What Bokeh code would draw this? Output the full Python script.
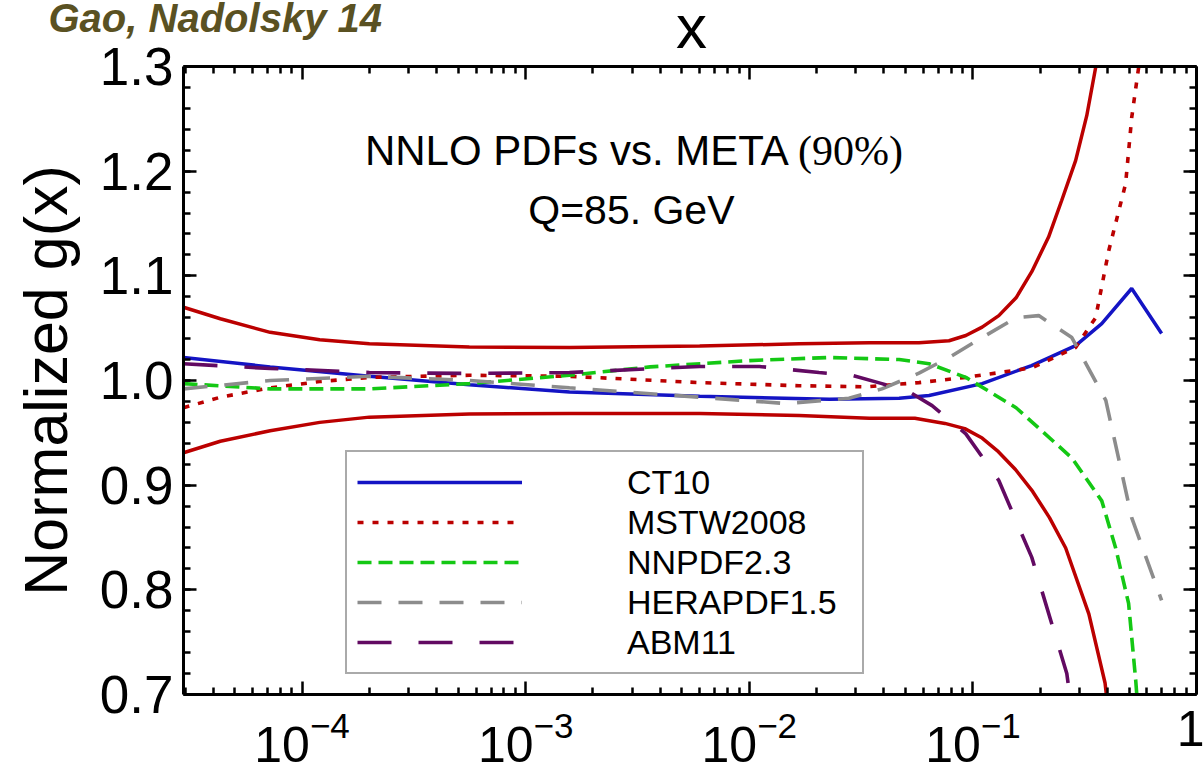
from bokeh.plotting import figure
from bokeh.layouts import column
from bokeh.models import (Range1d, LogAxis, LinearAxis, FixedTicker, LogTickFormatter,
                          Legend, LegendItem, Label)
from bokeh.embed import file_html
from bokeh.resources import INLINE

# ---------------- data ----------------
meta_upper_x = [2.95e-5, 4.31e-5, 7.2e-5, 1.2e-4, 2.0e-4, 5.6e-4, 1.57e-3, 6.0e-3, 0.0167, 0.0344,
                0.0574, 0.0782, 0.093, 0.11, 0.1306, 0.156, 0.1834, 0.218, 0.2495, 0.288,
                0.323, 0.354, 0.37]
meta_upper_y = [1.070, 1.059, 1.046, 1.039, 1.035, 1.032, 1.0315, 1.033, 1.035, 1.036,
                1.036, 1.038, 1.043, 1.051, 1.062, 1.079, 1.104, 1.137, 1.172, 1.210,
                1.253, 1.299, 1.317]

meta_lower_x = [2.95e-5, 4.31e-5, 7.2e-5, 1.2e-4, 2.0e-4, 5.6e-4, 1.57e-3, 6.0e-3, 0.0167, 0.0344,
                0.055, 0.075, 0.092, 0.11, 0.13, 0.155, 0.185, 0.22, 0.26, 0.33, 0.39, 0.40]
meta_lower_y = [0.931, 0.942, 0.952, 0.960, 0.965, 0.968, 0.9685, 0.9685, 0.9665, 0.964,
                0.964, 0.959, 0.954, 0.945, 0.932, 0.915, 0.894, 0.869, 0.840, 0.777, 0.711, 0.690]

ct10_x = [2.95e-5, 7.2e-5, 2.0e-4, 5.6e-4, 1.57e-3, 6.0e-3, 0.0228, 0.0468, 0.0637, 0.11,
          0.183, 0.288, 0.377, 0.513, 0.698]
ct10_y = [1.022, 1.013, 1.004, 0.996, 0.989, 0.985, 0.982, 0.983, 0.9857, 0.997,
          1.0143, 1.0334, 1.0544, 1.0879, 1.0449]

mstw_x = [2.95e-5, 4.31e-5, 7.2e-5, 1.2e-4, 2.0e-4, 5.6e-4, 1.57e-3, 6.0e-3, 0.0167, 0.0333,
          0.0574, 0.093, 0.183, 0.288, 0.354, 0.405, 0.482, 0.513, 0.551, 0.565]
mstw_y = [0.974, 0.984, 0.993, 0.999, 1.003, 1.005, 1.004, 0.998, 0.995, 0.994,
          0.998, 1.003, 1.012, 1.0315, 1.060, 1.124, 1.188, 1.251, 1.299, 1.32]

nnpdf_x = [2.95e-5, 7.2e-5, 2.0e-4, 5.6e-4, 1.57e-3, 3.6e-3, 0.01, 0.0228, 0.0468, 0.0637,
           0.093, 0.156, 0.277, 0.377, 0.435, 0.497, 0.535, 0.545]
nnpdf_y = [0.997, 0.992, 0.992, 0.997, 1.005, 1.013, 1.019, 1.022, 1.020, 1.016,
           1.003, 0.974, 0.926, 0.885, 0.840, 0.787, 0.713, 0.690]

hera_x = [2.95e-5, 7.2e-5, 2.0e-4, 5.6e-4, 1.57e-3, 6.0e-3, 0.0146, 0.0279, 0.0392, 0.0574,
          0.0782, 0.11, 0.156, 0.197, 0.277, 0.393, 0.513, 0.698]
hera_y = [0.992, 1.0, 1.004, 1.0, 0.993, 0.984, 0.978, 0.983, 0.992, 1.007,
          1.022, 1.041, 1.060, 1.062, 1.041, 0.981, 0.869, 0.790]

abm_x = [2.95e-5, 7.2e-5, 2.0e-4, 5.6e-4, 1.57e-3, 6.0e-3, 0.0111, 0.0205, 0.0288, 0.0392,
         0.0534, 0.0657, 0.093, 0.1306, 0.1834, 0.263, 0.275]
abm_y = [1.016, 1.0115, 1.0076, 1.0067, 1.0076, 1.0134, 1.0134, 1.0076, 1.005, 0.997,
         0.9876, 0.976, 0.949, 0.9045, 0.831, 0.720, 0.690]

series_names = ["CT10", "MSTW2008", "NNPDF2.3", "HERAPDF1.5", "ABM11"]

x_ticks = [1e-4, 1e-3, 1e-2, 1e-1, 1.0]
x_minor = [k * 10.0 ** d for d in range(-5, 0) for k in range(2, 10)]
y_ticks = [0.7, 0.8, 0.9, 1.0, 1.1, 1.2, 1.3]
y_tick_labels = ["0.7", "0.8", "0.9", "1.0", "1.1", "1.2", "1.3"]
y_minor = [round(0.7 + 0.02 * i, 2) for i in range(31)]

FONT = "Liberation Sans"
RED = "#bb0000"
BLUE = "#1414c4"
GREEN = "#14c814"
GRAY = "#8c8c8c"
PURPLE = "#620a62"

W, H = 1204, 773

# ---------------- main figure ----------------
p = figure(width=W, height=H, x_axis_type="log",
           x_range=Range1d(2.95e-5, 1.0), y_range=Range1d(0.7, 1.3),
           output_backend="svg", toolbar_location=None,
           min_border_left=183, min_border_right=8, min_border_top=66, min_border_bottom=79,
           background_fill_color="white", border_fill_color="white")
p.grid.visible = False
p.outline_line_color = None

xt = FixedTicker(ticks=x_ticks, minor_ticks=x_minor)
yt = FixedTicker(ticks=y_ticks, minor_ticks=y_minor)

bottom = p.xaxis[0]
bottom.ticker = xt
bottom.formatter = LogTickFormatter()
bottom.major_label_overrides = {1.0: "1"}
bottom.major_label_text_font = FONT
bottom.major_label_text_font_size = "50px"
bottom.major_label_standoff = 16

left = p.yaxis[0]
left.ticker = yt
left.major_label_overrides = {t: s for t, s in zip(y_ticks, y_tick_labels)}
left.major_label_text_font = FONT
left.major_label_text_font_size = "53px"
left.major_label_standoff = 10
left.axis_label = "Normalized g(x)"
left.axis_label_text_font = FONT
left.axis_label_text_font_size = "61px"
left.axis_label_text_font_style = "normal"
left.axis_label_standoff = 17

top = LogAxis(ticker=xt)
top.major_label_text_font_size = "1px"
top.major_label_text_alpha = 0
top.major_label_standoff = 0
p.add_layout(top, "above")

right = LinearAxis(ticker=yt)
right.major_label_text_font_size = "1px"
right.major_label_text_alpha = 0
right.major_label_standoff = 0
p.add_layout(right, "right")

for ax in (bottom, left, top, right):
    ax.major_tick_in = 13
    ax.major_tick_out = 0
    ax.minor_tick_in = 7
    ax.minor_tick_out = 0
    ax.axis_line_width = 3
    ax.major_tick_line_width = 2.5
    ax.minor_tick_line_width = 2.5
    ax.axis_line_color = "black"
    ax.major_tick_line_color = "black"
    ax.minor_tick_line_color = "black"
    ax.major_label_text_color = "black"
    ax.axis_label_text_color = "black"

# ---------------- curves ----------------
p.line(meta_upper_x, meta_upper_y, line_color=RED, line_width=3.5)
p.line(meta_lower_x, meta_lower_y, line_color=RED, line_width=3.5)

r_ct = p.line(ct10_x, ct10_y, line_color=BLUE, line_width=3.5)
r_ms = p.line(mstw_x, mstw_y, line_color=RED, line_width=3.6, line_dash="6 9")
r_nn = p.line(nnpdf_x, nnpdf_y, line_color=GREEN, line_width=3.6, line_dash="14 7")
r_he = p.line(hera_x, hera_y, line_color=GRAY, line_width=3.6, line_dash="24 17")
r_ab = p.line(abm_x, abm_y, line_color=PURPLE, line_width=3.6, line_dash="34 27")

legend = Legend(items=[LegendItem(label=n, renderers=[r])
                       for n, r in zip(series_names, [r_ct, r_ms, r_nn, r_he, r_ab])],
                location=(162, 20))
legend.label_text_font = FONT
legend.label_text_font_size = "34px"
legend.label_text_color = "black"
legend.glyph_width = 165
legend.glyph_height = 40
legend.label_height = 40
legend.label_standoff = 105
legend.label_width = 225
legend.padding = 10
legend.spacing = 0
legend.margin = 0
legend.border_line_color = "#555555"
legend.border_line_width = 2
legend.background_fill_color = "white"
legend.background_fill_alpha = 1.0
p.add_layout(legend, "center")

# ---------------- annotations inside the frame ----------------
p.add_layout(Label(x=1.91e-4, y=1.2197, text="NNLO PDFs vs. META", text_font=FONT,
                   text_font_size="42px", text_color="black",
                   text_align="left", text_baseline="middle"))
p.add_layout(Label(x=0.0165, y=1.2197, text="(90%)", text_font="Liberation Serif",
                   text_font_size="42px", text_color="black",
                   text_align="left", text_baseline="middle"))
p.add_layout(Label(x=2.97e-3, y=1.163, text="Q=85. GeV", text_font=FONT,
                   text_font_size="41px", text_color="black",
                   text_align="center", text_baseline="middle"))

# ---------------- transparent overlay carrying the texts above the frame ----------------
OVER_H = 140
over = figure(width=W, height=OVER_H, x_range=Range1d(0, 1), y_range=Range1d(0, 1),
              output_backend="svg", toolbar_location=None, min_border=0,
              x_axis_location=None, y_axis_location=None,
              background_fill_alpha=0, border_fill_alpha=0)
over.grid.visible = False
over.outline_line_color = None
if "frame_align" in over.properties():
    over.frame_align = False
over.margin = (-H, 0, 0, 0)
over.add_layout(Label(x=48, y=17, x_units="canvas", y_units="canvas", text="Gao, Nadolsky 14",
                      text_font=FONT, text_font_size="40px", text_font_style="bold italic",
                      text_color="#5a5122", text_align="left", text_baseline="alphabetic"),
                "above")
over.add_layout(Label(x=691, y=26, x_units="canvas", y_units="canvas", text="x",
                      text_font=FONT, text_font_size="62px", text_color="black",
                      text_align="center", text_baseline="alphabetic"),
                "above")

layout = column(p, over, spacing=0)
open("out.html", "w").write(file_html(layout, INLINE))
